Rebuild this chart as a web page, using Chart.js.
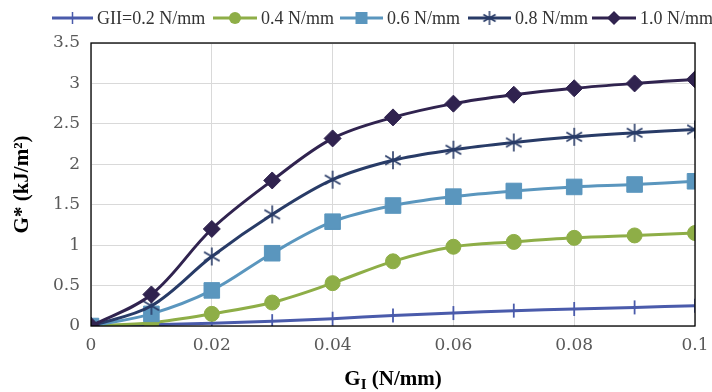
<!DOCTYPE html>
<html>
<head>
<meta charset="utf-8">
<script src="https://cdn.jsdelivr.net/npm/chart.js@4"></script>
<style>
  html, body { margin: 0; padding: 0; background: #fff; }
</style>
</head>
<body>
<canvas id="chart" width="712" height="392"></canvas>
<script>
// Data
const gI = [0, 0.01, 0.02, 0.03, 0.04, 0.05, 0.06, 0.07, 0.08, 0.09, 0.1];
const g02 = [0, 0.015, 0.035, 0.06, 0.09, 0.13, 0.16, 0.19, 0.21, 0.23, 0.25];
const g04 = [0, 0.04, 0.15, 0.29, 0.53, 0.8, 0.98, 1.04, 1.09, 1.12, 1.15];
const g06 = [0, 0.15, 0.44, 0.9, 1.29, 1.49, 1.6, 1.67, 1.72, 1.75, 1.79];
const g08 = [0, 0.25, 0.86, 1.38, 1.81, 2.05, 2.18, 2.27, 2.34, 2.39, 2.43];
const g10 = [0, 0.39, 1.2, 1.8, 2.32, 2.58, 2.75, 2.86, 2.94, 3.0, 3.05];
const seriesNames = ['GII=0.2 N/mm', '0.4 N/mm', '0.6 N/mm', '0.8 N/mm', '1.0 N/mm'];
const xTicks = [0, 0.02, 0.04, 0.06, 0.08, 0.1];
const yTicks = [0, 0.5, 1, 1.5, 2, 2.5, 3, 3.5];

const colors = ['#4a5bab', '#8eae47', '#5a96be', '#283b67', '#30234f'];

// 6-armed asterisk marker, Chart.js only has the 8-armed star
function makeAsterisk(size, color, width) {
    const c = document.createElement('canvas');
    c.width = size; c.height = size;
    const ctx = c.getContext('2d');
    const r = size / 2 - 1;
    ctx.strokeStyle = color;
    ctx.lineWidth = width;
    ctx.beginPath();
    [90, 30, 150].forEach(a => {
        const rad = a * Math.PI / 180;
        ctx.moveTo(size / 2 - Math.cos(rad) * r, size / 2 - Math.sin(rad) * r);
        ctx.lineTo(size / 2 + Math.cos(rad) * r, size / 2 + Math.sin(rad) * r);
    });
    ctx.stroke();
    return c;
}
const asterisk = makeAsterisk(20, colors[3], 1.6);
const asteriskSmall = makeAsterisk(16, colors[3], 1.5);

function pts(ys) {
    return ys.map((y, i) => ({ x: gI[i], y: y }));
}

function fmt(v) {
    return String(Math.round(v * 100) / 100);
}

// draw legend markers by hand
function drawMarker(ctx, kind, x, y, color) {
    ctx.save();
    ctx.fillStyle = color;
    ctx.strokeStyle = color;
    ctx.beginPath();
    if (kind === 'tick') {
        ctx.lineWidth = 1.5;
        ctx.moveTo(x, y - 6); ctx.lineTo(x, y + 6);
        ctx.stroke();
    } else if (kind === 'circle') {
        ctx.arc(x, y, 6, 0, Math.PI * 2);
        ctx.fill();
    } else if (kind === 'square') {
        ctx.rect(x - 6, y - 6, 12, 12);
        ctx.fill();
    } else if (kind === 'asterisk') {
        ctx.drawImage(asteriskSmall, x - 8, y - 8);
    } else if (kind === 'diamond') {
        ctx.moveTo(x, y - 7); ctx.lineTo(x + 7, y); ctx.lineTo(x, y + 7); ctx.lineTo(x - 7, y);
        ctx.closePath();
        ctx.fill();
    }
    ctx.restore();
}

const legendItems = [
    { x0: 52, x1: 93, kind: 'tick' },
    { x0: 213, x1: 257, kind: 'circle' },
    { x0: 340, x1: 383, kind: 'square' },
    { x0: 468, x1: 511, kind: 'asterisk' },
    { x0: 592, x1: 636, kind: 'diamond' }
];

const extras = {
    id: 'extras',
    afterDraw(chart) {
        const ctx = chart.ctx;
        const a = chart.chartArea;
        ctx.save();
        // black frame round the plot
        ctx.strokeStyle = '#000';
        ctx.lineWidth = 1.3;
        ctx.strokeRect(a.left, a.top, a.right - a.left, a.bottom - a.top);

        // x axis title with subscript I
        ctx.fillStyle = '#000';
        ctx.textBaseline = 'alphabetic';
        const big = 'bold 21px "Liberation Serif"';
        const small = 'bold 15px "Liberation Serif"';
        ctx.font = big;
        const wG = ctx.measureText('G').width;
        const wRest = ctx.measureText(' (N/mm)').width;
        ctx.font = small;
        const wI = ctx.measureText('I').width;
        let x = (a.left + a.right) / 2 - (wG + wI + wRest) / 2;
        const base = 385;
        ctx.font = big;
        ctx.fillText('G', x, base);
        x += wG;
        ctx.font = small;
        ctx.fillText('I', x, base + 4);
        x += wI;
        ctx.font = big;
        ctx.fillText(' (N/mm)', x, base);

        // legend
        ctx.font = '18px "Liberation Serif"';
        ctx.textBaseline = 'middle';
        legendItems.forEach((it, i) => {
            const y = 18;
            ctx.strokeStyle = colors[i];
            ctx.lineWidth = 3;
            ctx.beginPath();
            ctx.moveTo(it.x0, y); ctx.lineTo(it.x1, y);
            ctx.stroke();
            drawMarker(ctx, it.kind, (it.x0 + it.x1) / 2, y, colors[i]);
            ctx.fillStyle = '#333';
            ctx.fillText(seriesNames[i], it.x1 + 4, y + 1);
        });
        ctx.restore();
    }
};

function ds(label, data, color, style, radius, order, extra) {
    return Object.assign({
        label: label,
        data: pts(data),
        borderColor: color,
        backgroundColor: color,
        borderWidth: 3,
        pointStyle: style,
        pointRadius: radius,
        pointHoverRadius: radius,
        pointBorderWidth: 1,
        tension: 0.35,
        order: order
    }, extra || {});
}

new Chart(document.getElementById('chart'), {
    type: 'line',
    data: {
        datasets: [
            ds(seriesNames[0], g02, colors[0], 'line', 7, 5, { pointRotation: 90, pointBorderWidth: 1.8 }),
            ds(seriesNames[1], g04, colors[1], 'circle', 7.5, 4),
            ds(seriesNames[2], g06, colors[2], 'rect', 11, 3),
            ds(seriesNames[3], g08, colors[3], asterisk, 10, 2),
            ds(seriesNames[4], g10, colors[4], 'rectRot', 8.5, 1)
        ]
    },
    options: {
        responsive: false,
        animation: false,
        layout: { padding: { left: 0, right: 17, top: 43, bottom: 0 } },
        plugins: {
            legend: { display: false },
            tooltip: { enabled: false }
        },
        scales: {
            x: {
                type: 'linear',
                min: 0,
                max: 0.1,
                afterBuildTicks: s => { s.ticks = xTicks.map(v => ({ value: v })); },
                afterFit: s => { s.height = 66; s.paddingLeft = 0; s.paddingRight = 0; },
                grid: { color: '#d9d9d9', drawTicks: false },
                border: { display: false },
                ticks: {
                    callback: v => fmt(v),
                    color: '#595959',
                    padding: 9,
                    maxRotation: 0,
                    font: { family: '"DejaVu Serif"', size: 17 }
                }
            },
            y: {
                min: 0,
                max: 3.5,
                afterBuildTicks: s => { s.ticks = yTicks.map(v => ({ value: v })); },
                afterFit: s => { s.width = 91; s.paddingTop = 0; s.paddingBottom = 0; },
                grid: { color: '#d9d9d9', drawTicks: false },
                border: { display: false },
                ticks: {
                    callback: v => fmt(v),
                    color: '#595959',
                    padding: 11,
                    font: { family: '"DejaVu Serif"', size: 17 }
                },
                title: {
                    display: true,
                    text: 'G* (kJ/m²)',
                    color: '#000',
                    padding: { top: 10, bottom: 0 },
                    font: { family: '"Liberation Serif"', size: 21, weight: 'bold' }
                }
            }
        }
    },
    plugins: [extras]
});
</script>
</body>
</html>
